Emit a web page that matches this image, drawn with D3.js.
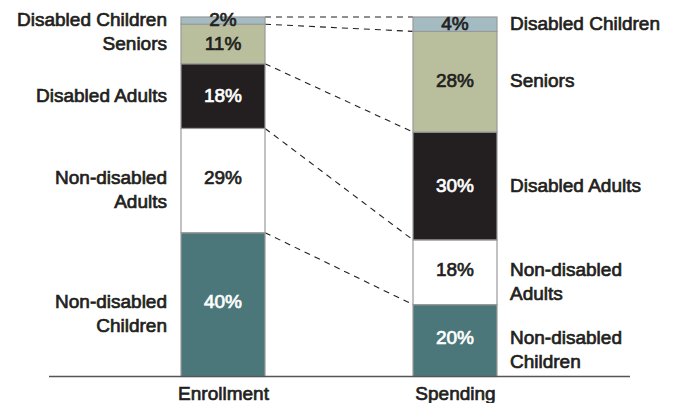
<!DOCTYPE html>
<html>
<head>
<meta charset="utf-8">
<script src="https://cdn.jsdelivr.net/npm/d3@7"></script>
<style>
  html, body { margin: 0; padding: 0; background: #fff; }
  svg { display: block; }
  text { font-family: "Liberation Sans", Arial, Helvetica, sans-serif; }
</style>
</head>
<body>
<svg id="chart" width="676" height="403"></svg>
<script>
// ---- Data ----
const categories = ["Enrollment", "Spending"];
const segments = ["Non-disabled Children", "Non-disabled Adults", "Disabled Adults", "Seniors", "Disabled Children"];
const segmentLines = [["Non-disabled", "Children"], ["Non-disabled", "Adults"], ["Disabled Adults"], ["Seniors"], ["Disabled Children"]];
const enrollment = [40, 29, 18, 11, 2];
const spending = [20, 18, 30, 28, 4];
const segmentColors = ["#4b777a", "#ffffff", "#231f20", "#b9bf9d", "#a4bcc1"];
const percentColors = ["#ffffff", "#231f20", "#ffffff", "#231f20", "#231f20"];

// ---- Build table ----
const table = categories.map((c, i) => {
  const vals = i === 0 ? enrollment : spending;
  const row = { category: c };
  segments.forEach((s, j) => row[s] = vals[j]);
  return row;
});
const stacked = d3.stack().keys(segments)(table);

const svg = d3.select("#chart");
const barW = 84;
const x = d3.scalePoint().domain(categories).range([223, 455]);
const y = d3.scaleLinear().domain([0, 100]).range([376.5, 17]);

// Dashed connectors
const connectors = [];
for (let j = 1; j <= segments.length; j++) {
  const a = j < segments.length ? stacked[j][0][0] : stacked[j - 1][0][1];
  const b = j < segments.length ? stacked[j][1][0] : stacked[j - 1][1][1];
  connectors.push([a, b]);
}
svg.append("g").selectAll("line").data(connectors).join("line")
  .attr("x1", x(categories[0]) + barW / 2)
  .attr("x2", x(categories[1]) - barW / 2)
  .attr("y1", d => y(d[0]))
  .attr("y2", d => y(d[1]))
  .attr("stroke", "#231f20")
  .attr("stroke-width", 1.1)
  .attr("stroke-dasharray", "6,5");

// Bars
const layers = svg.append("g").selectAll("g").data(stacked).join("g")
  .attr("fill", (d, i) => segmentColors[i]);
layers.selectAll("rect").data(d => d).join("rect")
  .attr("x", d => x(d.data.category) - barW / 2)
  .attr("width", barW)
  .attr("y", d => y(d[1]))
  .attr("height", d => y(d[0]) - y(d[1]))
  .attr("stroke", "#9a9a9a")
  .attr("stroke-width", 1.2);

function medium(sel, color) {
  return sel.attr("font-weight", "normal")
    .attr("fill", color)
    .attr("stroke", color)
    .attr("stroke-width", 0.7);
}

// Percent labels
const lineH = 24;
function firstLineY(d, j) {
  const mid = (y(d[0]) + y(d[1])) / 2;
  return segmentLines[j].length > 1 ? mid - 2 : mid;
}
stacked.forEach((layer, j) => {
  layer.forEach((d, i) => {
    svg.append("text")
      .attr("x", x(d.data.category))
      .attr("y", firstLineY(d, j) - 1)
      .attr("dy", "0.35em")
      .attr("text-anchor", "middle")
      .attr("font-size", 19)
      .call(medium, percentColors[j])
      .text((d[1] - d[0]) + "%");
  });
});

// Segment labels, left of first bar and right of second bar
stacked.forEach((layer, j) => {
  [0, 1].forEach(i => {
    const d = layer[i];
    const lx = i === 0 ? x(categories[0]) - barW / 2 - 14 : x(categories[1]) + barW / 2 + 13;
    const t = svg.append("text")
      .attr("x", lx)
      .attr("y", firstLineY(d, j) - 1)
      .attr("text-anchor", i === 0 ? "end" : "start")
      .attr("font-size", 19)
      .call(medium, "#231f20");
    segmentLines[j].forEach((ln, k) => {
      t.append("tspan")
        .attr("x", lx)
        .attr("dy", k === 0 ? "0.35em" : lineH)
        .text(ln);
    });
  });
});

// Baseline axis
const xAxis = d3.axisBottom(x).tickSize(0).tickPadding(10);
const axisG = svg.append("g").attr("transform", `translate(0,${y(0)})`).call(xAxis);
axisG.select(".domain").remove();
axisG.append("line")
  .attr("x1", 49).attr("x2", 630)
  .attr("stroke", "#555").attr("stroke-width", 1.6);
axisG.selectAll(".tick text")
  .attr("font-family", "Liberation Sans, Arial, sans-serif")
  .attr("font-size", 19)
  .call(medium, "#231f20");
</script>
</body>
</html>
